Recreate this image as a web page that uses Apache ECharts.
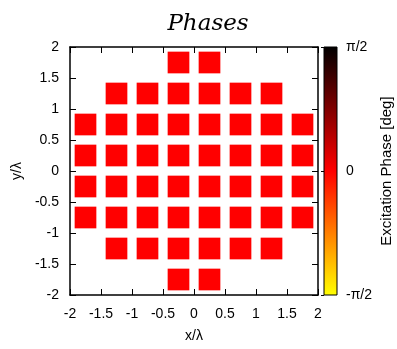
<!DOCTYPE html>
<html>
<head>
<meta charset="utf-8">
<script src="https://cdn.jsdelivr.net/npm/echarts@6/dist/echarts.min.js"></script>
<style>
  html, body { margin: 0; padding: 0; background: #fff; }
  #main { width: 397px; height: 349px; }
</style>
</head>
<body>
<div id="main"></div>
<script>
// 阵元位置 (单位 λ)，每行一组
const rowY = [1.75, 1.25, 0.75, 0.25, -0.25, -0.75, -1.25, -1.75];
const rowX = [
  [-0.25, 0.25],
  [-1.25, -0.75, -0.25, 0.25, 0.75, 1.25],
  [-1.75, -1.25, -0.75, -0.25, 0.25, 0.75, 1.25, 1.75],
  [-1.75, -1.25, -0.75, -0.25, 0.25, 0.75, 1.25, 1.75],
  [-1.75, -1.25, -0.75, -0.25, 0.25, 0.75, 1.25, 1.75],
  [-1.75, -1.25, -0.75, -0.25, 0.25, 0.75, 1.25, 1.75],
  [-1.25, -0.75, -0.25, 0.25, 0.75, 1.25],
  [-0.25, 0.25]
];
// 激励相位 (rad)，与 rowX 对应
const rowPhase = [
  [0, 0],
  [0, 0, 0, 0, 0, 0],
  [0, 0, 0, 0, 0, 0, 0, 0],
  [0, 0, 0, 0, 0, 0, 0, 0],
  [0, 0, 0, 0, 0, 0, 0, 0],
  [0, 0, 0, 0, 0, 0, 0, 0],
  [0, 0, 0, 0, 0, 0],
  [0, 0]
];
// 色条刻度
const phaseTicks = [-Math.PI / 2, 0, Math.PI / 2];
const phaseTickLabels = ['-π/2', '0', 'π/2'];

// 阵元方块边长 (λ)
const elemSize = 0.35;
const textColor = '#000';
const labelFont = 'Liberation Sans';
const labelSize = 14;

let elements = [];
rowY.forEach((y, i) => {
  rowX[i].forEach((x, j) => {
    elements.push([x, y, rowPhase[i][j]]);
  });
});

let chart = echarts.init(document.getElementById('main'), null, { renderer: 'canvas' });

const axisCommon = {
  type: 'value',
  min: -2,
  max: 2,
  interval: 0.5,
  splitLine: { show: false },
  axisLine: { show: true, onZero: false, lineStyle: { color: textColor, width: 1.5 } },
  axisTick: { show: true, inside: true, length: 6, lineStyle: { color: textColor } }
};

let option = {
  backgroundColor: '#fff',
  animation: false,
  title: {
    text: 'Phases',
    left: 203,
    top: 8,
    textAlign: 'center',
    textStyle: {
      fontFamily: 'DejaVu Serif',
      fontStyle: 'italic',
      fontWeight: 'normal',
      fontSize: 23,
      color: textColor
    }
  },
  grid: [
    { left: 70, top: 47, width: 248, height: 248 },
    { left: 324, top: 47, width: 13, height: 248 }
  ],
  visualMap: {
    show: false,
    type: 'continuous',
    seriesIndex: 0,
    dimension: 2,
    min: -Math.PI / 2,
    max: Math.PI / 2,
    inRange: { color: ['#ffff00', '#ff0000', '#000000'] }
  },
  xAxis: [
    Object.assign({}, axisCommon, {
      gridIndex: 0,
      position: 'bottom',
      name: 'x/λ',
      nameLocation: 'middle',
      nameGap: 34,
      nameTextStyle: { fontFamily: labelFont, fontSize: labelSize, color: textColor },
      axisLabel: { margin: 12, fontFamily: labelFont, fontSize: labelSize, color: textColor }
    }),
    Object.assign({}, axisCommon, {
      gridIndex: 0,
      position: 'top',
      axisLabel: { show: false }
    }),
    { type: 'value', gridIndex: 1, min: 0, max: 1, show: false }
  ],
  yAxis: [
    Object.assign({}, axisCommon, {
      gridIndex: 0,
      position: 'left',
      name: 'y/λ',
      nameLocation: 'middle',
      nameGap: 45,
      nameRotate: 90,
      nameTextStyle: { fontFamily: labelFont, fontSize: labelSize, color: textColor },
      axisLabel: { margin: 11, fontFamily: labelFont, fontSize: labelSize, color: textColor }
    }),
    Object.assign({}, axisCommon, {
      gridIndex: 0,
      position: 'right',
      axisLabel: { show: false }
    }),
    {
      type: 'value',
      gridIndex: 1,
      position: 'right',
      min: phaseTicks[0],
      max: phaseTicks[2],
      interval: Math.PI / 2,
      splitLine: { show: false },
      axisLine: { show: false },
      axisTick: { show: true, inside: true, length: 3, lineStyle: { color: textColor, type: 'dashed' } },
      axisLabel: {
        margin: 9,
        fontFamily: labelFont,
        fontSize: labelSize,
        color: textColor,
        formatter: function (v) {
          let k = phaseTicks.findIndex(t => Math.abs(t - v) < 1e-6);
          return k >= 0 ? phaseTickLabels[k] : '';
        }
      },
      name: 'Excitation Phase [deg]',
      nameLocation: 'middle',
      nameGap: 42,
      nameRotate: 90,
      nameTextStyle: { fontFamily: labelFont, fontSize: 15, color: textColor }
    }
  ],
  series: [
    {
      type: 'custom',
      xAxisIndex: 0,
      yAxisIndex: 0,
      data: elements,
      renderItem: function (params, api) {
        let c = api.coord([api.value(0), api.value(1)]);
        let s = api.size([elemSize, elemSize]);
        return {
          type: 'rect',
          shape: { x: c[0] - s[0] / 2, y: c[1] - s[1] / 2, width: s[0], height: s[1] },
          style: { fill: api.visual('color') }
        };
      }
    },
    {
      // 色条
      type: 'custom',
      xAxisIndex: 2,
      yAxisIndex: 2,
      data: [[0, phaseTicks[0], phaseTicks[2]]],
      renderItem: function (params, api) {
        let p0 = api.coord([0, api.value(2)]);
        let p1 = api.coord([1, api.value(1)]);
        return {
          type: 'rect',
          shape: { x: p0[0], y: p0[1], width: p1[0] - p0[0], height: p1[1] - p0[1] },
          style: {
            fill: new echarts.graphic.LinearGradient(0, 0, 0, 1, [
              { offset: 0, color: '#000000' },
              { offset: 0.5, color: '#ff0000' },
              { offset: 1, color: '#ffff00' }
            ]),
            stroke: textColor,
            lineWidth: 1
          }
        };
      }
    }
  ]
};

chart.setOption(option);
</script>
</body>
</html>
